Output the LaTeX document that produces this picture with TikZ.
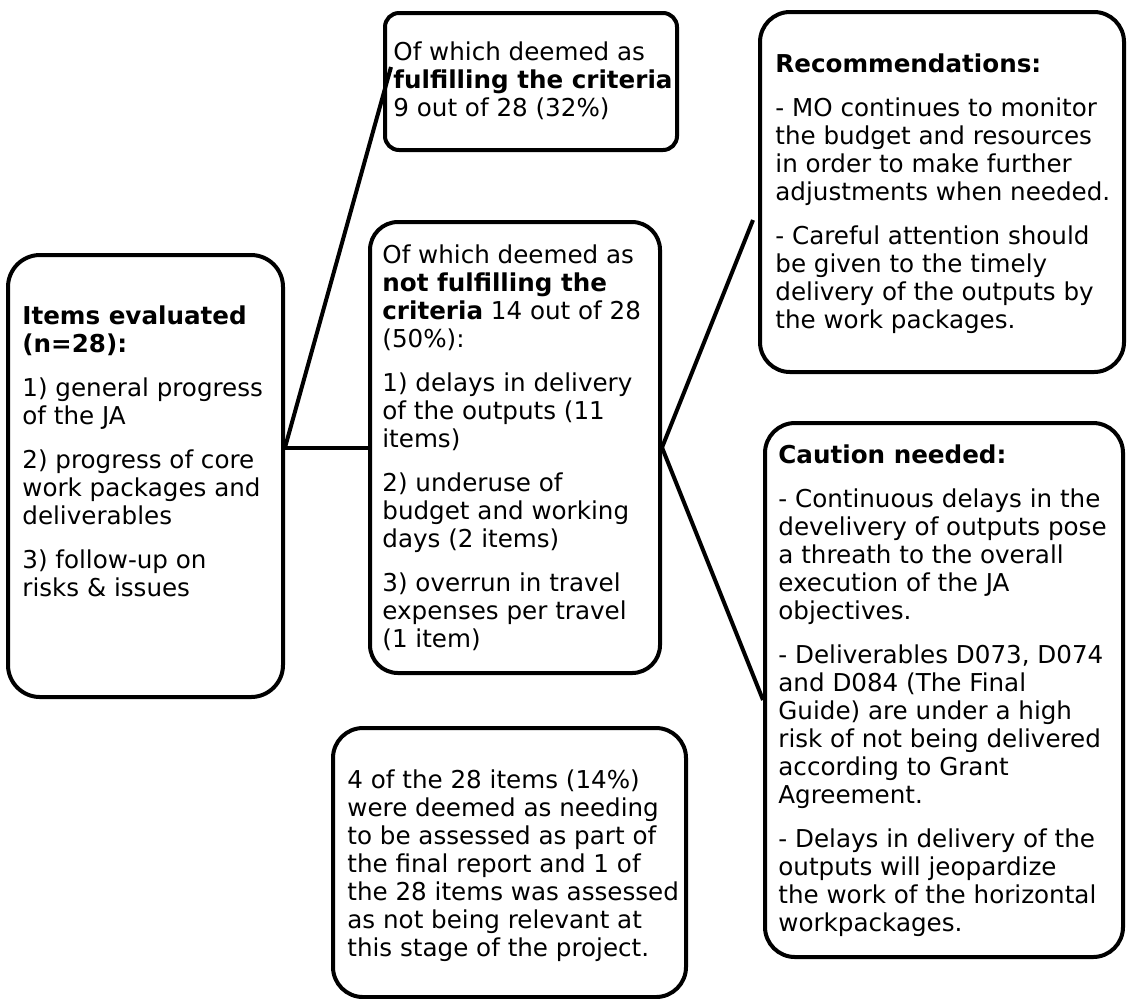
\documentclass[tikz,border=0pt]{standalone}
\usepackage{fontspec}
\setmainfont{DejaVu Sans}
\usepackage{tikz}
\usetikzlibrary{positioning, calc}

\begin{document}
\begin{tikzpicture}[x=0.5pt, y=-0.5pt,
    box/.style={draw, line width=2pt, rounded corners=15pt, inner sep=0pt},
    txt/.style={anchor=north west, align=left, inner sep=0pt, font=\fontsize{12.3}{14}\selectfont},
    link/.style={line width=2pt}]
    \useasboundingbox (0,0) rectangle (1127,998);

    % Draw boxes
    \node[box, rounded corners=16pt, minimum width=137.5pt, minimum height=221pt] (items) at (145.5,476) {};
    \node[box, rounded corners=7pt, minimum width=146pt, minimum height=68.5pt] (fulfil) at (531,81.5) {};
    \node[box, rounded corners=14pt, minimum width=145pt, minimum height=225.5pt] (notful) at (515,447.5) {};
    \node[box, minimum width=182pt, minimum height=180pt] (recom) at (942,192) {};
    \node[box, minimum width=179pt, minimum height=267pt] (caution) at (944,690) {};
    \node[box, minimum width=176.5pt, minimum height=134.5pt] (assess) at (509.5,862.5) {};

    % Fill in texts
    \node[txt] (itemstxt) at (22,305) {\textbf{Items evaluated}\\\textbf{(n=28):}\\[8pt]
        1) general progress\\of the JA\\[8pt]
        2) progress of core\\work packages and\\deliverables\\[8pt]
        3) follow-up on\\risks \& issues};
    \node[txt] (fulfiltxt) at (393,41) {Of which deemed as\\\textbf{fulfilling the criteria}\\9 out of 28 (32\%)};
    \node[txt] (notfultxt) at (382,244) {Of which deemed as\\\textbf{not fulfilling the}\\\textbf{criteria} 14 out of 28\\(50\%):\\[8pt]
        1) delays in delivery\\of the outputs (11\\items)\\[8pt]
        2) underuse of\\budget and working\\days (2 items)\\[8pt]
        3) overrun in travel\\expenses per travel\\(1 item)};
    \node[txt] (recomtxt) at (775,53) {\textbf{Recommendations:}\\[8pt]
        - MO continues to monitor\\the budget and resources\\in order to make further\\adjustments when needed.\\[8pt]
        - Careful attention should\\be given to the timely\\delivery of the outputs by\\the work packages.};
    \node[txt] (cautiontxt) at (778,444) {\textbf{Caution needed:}\\[8pt]
        - Continuous delays in the\\develivery of outputs pose\\a threath to the overall\\execution of the JA\\objectives.\\[8pt]
        - Deliverables D073, D074\\and D084 (The Final\\Guide) are under a high\\risk of not being delivered\\according to Grant\\Agreement.\\[8pt]
        - Delays in delivery of the\\outputs will jeopardize\\the work of the horizontal\\workpackages.};
    \node[txt] (assesstxt) at (347,769) {4 of the 28 items (14\%)\\were deemed as needing\\to be assessed as part of\\the final report and 1 of\\the 28 items was assessed\\as not being relevant at\\this stage of the project.};

    % Connectors
    \coordinate (jl) at (items.east |- notful.west);
    \coordinate (jr) at (notful.east);
    \coordinate (fulfilend) at (391,67);
    \coordinate (recomend) at (753,220);
    \coordinate (cautionend) at (caution.west |- 0,700);
    \draw[link] (jl) -- (notful.west);
    \draw[link] (jl) -- (fulfilend);
    \draw[link] (jr) -- (recomend);
    \draw[link] (jr) -- (cautionend);
\end{tikzpicture}
\end{document}
